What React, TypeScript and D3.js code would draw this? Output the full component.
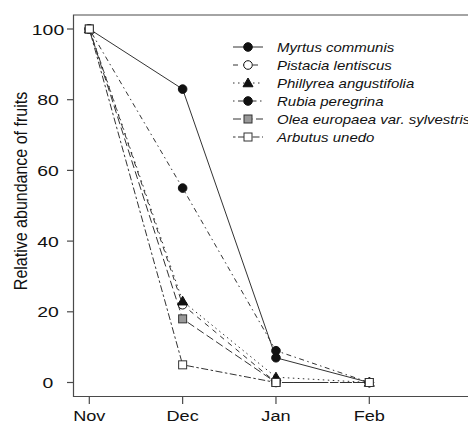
import React, { useRef, useEffect } from 'react';
import * as d3 from 'd3';

// months on the x axis
const months = ['Nov', 'Dec', 'Jan', 'Feb'];
const yTicks = [0, 20, 40, 60, 80, 100];

// relative abundance of fruits (%) per species
const myrtus = [100, 83, 7, 0];
const pistacia = [100, 22, 0, 0];
const phillyrea = [100, 23, 1.5, 0];
const rubia = [100, 55, 9, 0];
const olea = [100, 18, 0, 0];
const arbutus = [100, 5, 0, 0];

const speciesNames = [
  'Myrtus communis',
  'Pistacia lentiscus',
  'Phillyrea angustifolia',
  'Rubia peregrina',
  'Olea europaea var. sylvestris',
  'Arbutus unedo',
];

export default function App() {
  const ref = useRef<SVGSVGElement>(null);

  useEffect(() => {
    if (!ref.current) return;
    const svg = d3.select(ref.current);
    svg.selectAll('*').remove();

    const W = 468;
    const left = 73.5, top = 15, bottom = 396.5;
    const stroke = '#4a4a4a';
    const sx = 1.17; // picture is a bit stretched sideways

    const x = d3.scalePoint<string>().domain(months).range([89.3, 369.3]);
    const y = d3.scaleLinear().domain([0, 100]).range([382.5, 29]);

    // R-like styles: lty and pch
    const series = [
      { name: speciesNames[0], values: myrtus, dash: null, shape: 'circle', fill: '#111' },
      { name: speciesNames[1], values: pistacia, dash: '5,5', shape: 'circle', fill: '#fff' },
      { name: speciesNames[2], values: phillyrea, dash: '1.5,3.5', shape: 'triangle', fill: '#111' },
      { name: speciesNames[3], values: rubia, dash: '1.5,3.5,5,3.5', shape: 'circle', fill: '#111' },
      { name: speciesNames[4], values: olea, dash: '8,3.5', shape: 'square', fill: '#999' },
      { name: speciesNames[5], values: arbutus, dash: '2.5,2.5,7,2.5', shape: 'square', fill: '#fff' },
    ];

    const font = '"Liberation Sans", Arial, Helvetica, sans-serif';
    const label = (tx: number, ty: number, text: string, size: number, anchor: string,
      italic = false, rot = 0, stretch = sx) => {
      const g = svg.append('g').attr('transform', rot
        ? `translate(${tx},${ty}) rotate(${rot}) scale(1,${stretch})`
        : `translate(${tx},${ty}) scale(${stretch},1)`);
      g.append('text')
        .attr('font-family', font)
        .attr('font-size', size)
        .attr('font-style', italic ? 'italic' : 'normal')
        .attr('text-anchor', anchor)
        .attr('fill', '#111')
        .text(text);
    };

    const marker = (g: any, cx: number, cy: number, shape: string, fill: string) => {
      if (shape === 'circle') {
        g.append('circle').attr('cx', cx).attr('cy', cy).attr('r', 4.3)
          .attr('fill', fill).attr('stroke', '#111').attr('stroke-width', 1);
      } else if (shape === 'square') {
        g.append('rect').attr('x', cx - 4).attr('y', cy - 4).attr('width', 8).attr('height', 8)
          .attr('fill', fill).attr('stroke', '#333').attr('stroke-width', 1);
      } else {
        const s = 5;
        g.append('path')
          .attr('d', `M${cx},${cy - s}L${cx + s},${cy + s * 0.75}L${cx - s},${cy + s * 0.75}Z`)
          .attr('fill', fill).attr('stroke', '#111').attr('stroke-width', 1);
      }
    };

    // frame: top, left, bottom (right side is cut off)
    svg.append('path')
      .attr('d', `M${W},${top}H${left}V${bottom}H${W}`)
      .attr('fill', 'none').attr('stroke', stroke).attr('stroke-width', 1.2);

    // y ticks
    yTicks.forEach(t => {
      svg.append('line').attr('x1', 67).attr('x2', left).attr('y1', y(t)).attr('y2', y(t))
        .attr('stroke', stroke).attr('stroke-width', 1.2);
      label(48, y(t) + 5.6, String(t), 15.5, 'middle', false, 0, 1.25);
    });

    // x ticks
    months.forEach(m => {
      svg.append('line').attr('x1', x(m)!).attr('x2', x(m)!).attr('y1', bottom).attr('y2', 404)
        .attr('stroke', stroke).attr('stroke-width', 1.2);
      label(x(m)!, 421, m, 15.5, 'middle');
    });

    // y axis title
    label(27, 191, 'Relative abundance of fruits', 16, 'middle', false, -90);

    const line = d3.line<number>()
      .x((_, i) => x(months[i])!)
      .y(d => y(d));

    const plot = svg.append('g');
    series.forEach(s => {
      plot.append('path')
        .attr('d', line(s.values))
        .attr('fill', 'none')
        .attr('stroke', '#333')
        .attr('stroke-width', 1)
        .attr('stroke-dasharray', s.dash);
    });
    series.forEach(s => {
      s.values.forEach((v, i) => marker(plot, x(months[i])!, y(v), s.shape, s.fill));
    });

    // legend
    const lg = svg.append('g');
    series.forEach((s, i) => {
      const ly = 47 + i * 18;
      lg.append('line').attr('x1', 233).attr('x2', 263).attr('y1', ly).attr('y2', ly)
        .attr('stroke', '#333').attr('stroke-width', 1).attr('stroke-dasharray', s.dash);
      marker(lg, 248, ly, s.shape, s.fill);
      label(277, ly + 4.6, s.name, 12.8, 'start', true);
    });
  }, []);

  return (
    <svg ref={ref} width={468} height={424}
      style={{ position: 'absolute', left: 0, top: 0, background: '#fff' }} />
  );
}
